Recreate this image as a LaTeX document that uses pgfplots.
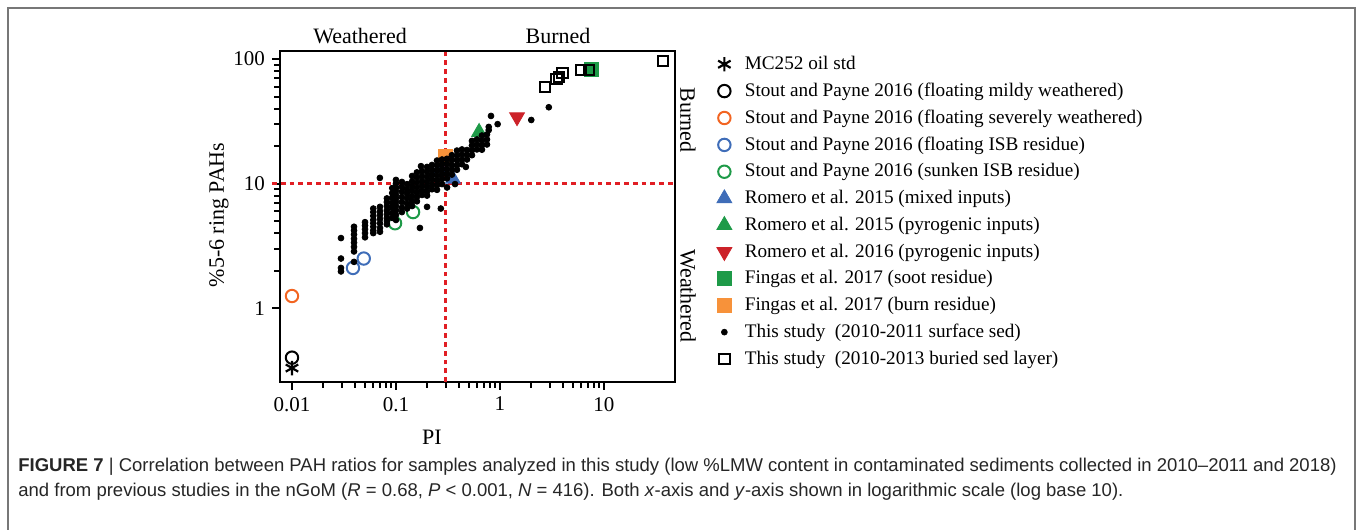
\documentclass[border=0pt]{standalone}
\usepackage{fontspec}
\setmainfont{Liberation Serif}
\newfontfamily\capfont{Liberation Sans}
\usepackage{pgfplots}
\pgfplotsset{compat=1.18}
\usepackage{pgfplotstable}

\definecolor{oran}{HTML}{F26522}
\definecolor{blu}{HTML}{3F6DB8}
\definecolor{grn}{HTML}{1E9A48}
\definecolor{redt}{HTML}{CC2229}
\definecolor{oransq}{HTML}{F7923A}
\definecolor{framegray}{HTML}{777777}

% This study (2010-2011 surface sed)
\pgfplotstableread{
x y
0.0296 3.65
0.0296 2.50
0.0296 2.10
0.0296 1.97
0.0395 4.50
0.0395 4.20
0.0395 3.90
0.0395 3.60
0.0395 3.35
0.0395 3.10
0.0395 2.85
0.0395 2.35
0.0504 4.90
0.0504 4.60
0.0504 4.30
0.0504 4.00
0.0504 3.70
0.0605 6.30
0.0605 5.90
0.0605 5.50
0.0605 5.10
0.0605 4.80
0.0605 4.50
0.0605 4.20
0.0605 4.00
0.0702 6.50
0.0702 6.00
0.0702 5.60
0.0702 5.20
0.0702 4.80
0.0702 4.40
0.0702 4.10
0.0818 7.60
0.0818 7.10
0.0818 6.60
0.0818 6.10
0.0818 5.70
0.0818 5.30
0.0818 5.00
0.0818 4.70
0.092 9.20
0.092 8.40
0.092 7.70
0.092 7.00
0.092 6.40
0.092 5.80
0.092 5.30
0.100 10.7
0.100 10.0
0.100 9.30
0.100 8.70
0.100 8.10
0.100 7.60
0.100 7.10
0.100 6.60
0.100 6.10
0.100 5.60
0.100 5.10
0.114 10.3
0.114 9.40
0.114 8.60
0.114 7.80
0.114 7.10
0.114 6.40
0.114 5.90
0.128 9.90
0.128 9.00
0.128 8.30
0.128 7.60
0.128 6.90
0.128 6.30
0.143 11.5
0.143 10.4
0.143 9.50
0.143 8.70
0.143 7.90
0.143 7.20
0.143 6.60
0.159 12.3
0.159 11.2
0.159 10.2
0.159 9.30
0.159 8.50
0.159 7.80
0.159 7.20
0.178 12.6
0.178 11.5
0.178 10.5
0.178 9.60
0.178 8.80
0.178 8.10
0.199 13.6
0.199 12.4
0.199 11.3
0.199 10.3
0.199 9.40
0.199 8.60
0.199 8.00
0.222 14.1
0.222 12.9
0.222 11.8
0.222 10.8
0.222 9.80
0.222 9.00
0.248 15.3
0.248 14.0
0.248 12.7
0.248 11.6
0.248 10.6
0.248 9.70
0.248 8.90
0.277 15.6
0.277 14.3
0.277 13.0
0.277 11.9
0.277 10.9
0.277 9.90
0.309 15.8
0.309 14.4
0.309 13.1
0.309 12.0
0.309 11.0
0.345 16.9
0.345 15.5
0.345 14.1
0.345 12.9
0.345 11.8
0.386 18.4
0.386 16.8
0.386 15.4
0.386 14.0
0.386 12.9
0.431 18.8
0.431 17.1
0.431 15.6
0.431 14.3
0.482 18.6
0.482 17.0
0.482 15.6
0.538 22.0
0.538 20.2
0.538 18.5
0.538 16.9
0.601 22.6
0.601 20.6
0.601 18.8
0.671 24.3
0.671 22.2
0.671 20.3
0.671 18.7
0.750 24.8
0.750 22.6
0.750 20.6
0.070 11.1
0.174 13.8
0.470 13.6
0.370 9.90
0.310 9.30
0.199 6.50
0.270 6.30
0.170 4.40
0.820 34.9
0.950 30.0
2.000 32.4
2.950 41.0
0.780 28.5
0.780 26.9
}\surfacesed

% This study (2010-2013 buried sed layer)
\pgfplotstableread{
x y
36.9 96
6.0 81.6
7.2 82
4.0 77
3.7 72
3.5 69
2.7 59.6
}\buriedsed

\begin{document}
\begin{tikzpicture}
\useasboundingbox (0,0) rectangle (678.5pt,265pt);

\begin{scope}[x=0.5pt,y=-0.5pt,shift={(0pt,265pt)}]
  % outer figure frame
  \draw[framegray, line width=0.7pt] (8,540) -- (8,8) -- (1355,8) -- (1355,540);
  % region labels
  \node[font=\fontsize{11}{13}\selectfont] at (360,36) {Weathered};
  \node[font=\fontsize{11}{13}\selectfont] at (558,36) {Burned};
  \node[font=\fontsize{11}{13}\selectfont, rotate=-90] at (688,120) {Burned};
  \node[font=\fontsize{11}{13}\selectfont, rotate=-90] at (688,296) {Weathered};
  % axis titles
  \node[font=\fontsize{11}{13}\selectfont, rotate=90] at (219,215) {\%5-6 ring PAHs};
  \node[font=\fontsize{11}{13}\selectfont] at (432,437) {PI};
  % caption
  \node[anchor=base west, inner sep=0pt, text=black!85, font=\capfont\fontsize{9.25}{10}\selectfont] at (18,472)
    {\textbf{FIGURE 7} | Correlation between PAH ratios for samples analyzed in this study (low \%LMW content in contaminated sediments collected in 2010–2011 and 2018)};
  \node[anchor=base west, inner sep=0pt, text=black!85, font=\capfont\fontsize{9.25}{10}\selectfont] at (18,497)
    {and from previous studies in the nGoM (\textit{R} = 0.68, \textit{P} < 0.001, \textit{N} = 416). Both \textit{x}-axis and \textit{y}-axis shown in logarithmic scale (log base 10).};
\end{scope}

\begin{axis}[
    at={(140pt,74pt)}, anchor=south west,
    scale only axis,
    width=197.5pt, height=165.5pt,
    xmode=log, ymode=log,
    xmin=0.00767, xmax=48.2,
    ymin=0.255, ymax=116,
    xtick={0.01,0.1,1,10}, xticklabels={0.01,0.1,1,10},
    ytick={1,10,100}, yticklabels={1,10,100},
    minor xtick={}, minor ytick={},
    tick align=outside, xtick pos=bottom, ytick pos=left,
    major tick length=4pt,
    axis line style={line width=1pt},
    every tick/.style={line width=1pt, black},
    ticklabel style={font=\fontsize{10.5}{12}\selectfont},
    /pgf/number format/assume math mode=true,
    clip=false,
    legend style={at={(1.09,1.01)}, anchor=north west, draw=none, fill=none,
      font=\fontsize{9.6}{11}\selectfont, row sep=1.2pt,
      /tikz/every odd column/.append style={column sep=4.5pt}},
    legend cell align=left,
]
\addplot[only marks, mark=asterisk, mark size=3.6pt, line width=1.1pt, black] coordinates {(0.01,0.33)};
\addlegendentry{MC252 oil std}
\addplot[only marks, mark=o, mark size=3.1pt, line width=1pt, black] coordinates {(0.01,0.40)};
\addlegendentry{Stout and Payne 2016 (floating mildy weathered)}
\addplot[only marks, mark=o, mark size=3.1pt, line width=1pt, oran] coordinates {(0.01,1.25)};
\addlegendentry{Stout and Payne 2016 (floating severely weathered)}
\addplot[only marks, mark=o, mark size=3.1pt, line width=1pt, blu] coordinates {(0.0386,2.1) (0.049,2.5)};
\addlegendentry{Stout and Payne 2016 (floating ISB residue)}
\addplot[only marks, mark=o, mark size=3.1pt, line width=1pt, grn] coordinates {(0.098,4.8) (0.146,5.9)};
\addlegendentry{Stout and Payne 2016 (sunken ISB residue)}
\addplot[only marks, mark=triangle*, mark size=4.3pt, blu] coordinates {(0.265,13.3) (0.353,10.9)};
\addlegendentry{Romero et al. 2015 (mixed inputs)}
\addplot[only marks, mark=triangle*, mark size=4.3pt, grn] coordinates {(0.63,25.9)};
\addlegendentry{Romero et al. 2015 (pyrogenic inputs)}
\addplot[only marks, mark=triangle*, mark size=4.3pt, redt, mark options={rotate=180}] coordinates {(1.46,34.2)};
\addlegendentry{Romero et al. 2016 (pyrogenic inputs)}
\addplot[only marks, mark=square*, mark size=3.5pt, grn] coordinates {(7.5,83)};
\addlegendentry{Fingas et al. 2017 (soot residue)}
\addplot[only marks, mark=square*, mark size=3.5pt, oransq] coordinates {(0.296,16.6)};
\addlegendentry{Fingas et al. 2017 (burn residue)}
\addplot[only marks, mark=*, mark size=1.45pt, black] table {\surfacesed};
\addlegendentry{This study\ \ (2010-2011 surface sed)}
\addplot[only marks, mark=square, mark size=2.6pt, line width=1pt, black] table {\buriedsed};
\addlegendentry{This study\ \ (2010-2013 buried sed layer)}

% quadrant lines (PI = 0.3 and 10 % 5-6 ring PAHs)
\addplot[forget plot, no marks, color={rgb,255:red,225;green,30;blue,36}, line width=1.1pt, dash pattern=on 2.4pt off 2pt] coordinates {(0.3,0.255) (0.3,116)};
\addplot[forget plot, no marks, color={rgb,255:red,225;green,30;blue,36}, line width=1.1pt, dash pattern=on 2.4pt off 2pt] coordinates {(0.00643,10) (48.2,10)};
\end{axis}
\end{tikzpicture}
\end{document}
